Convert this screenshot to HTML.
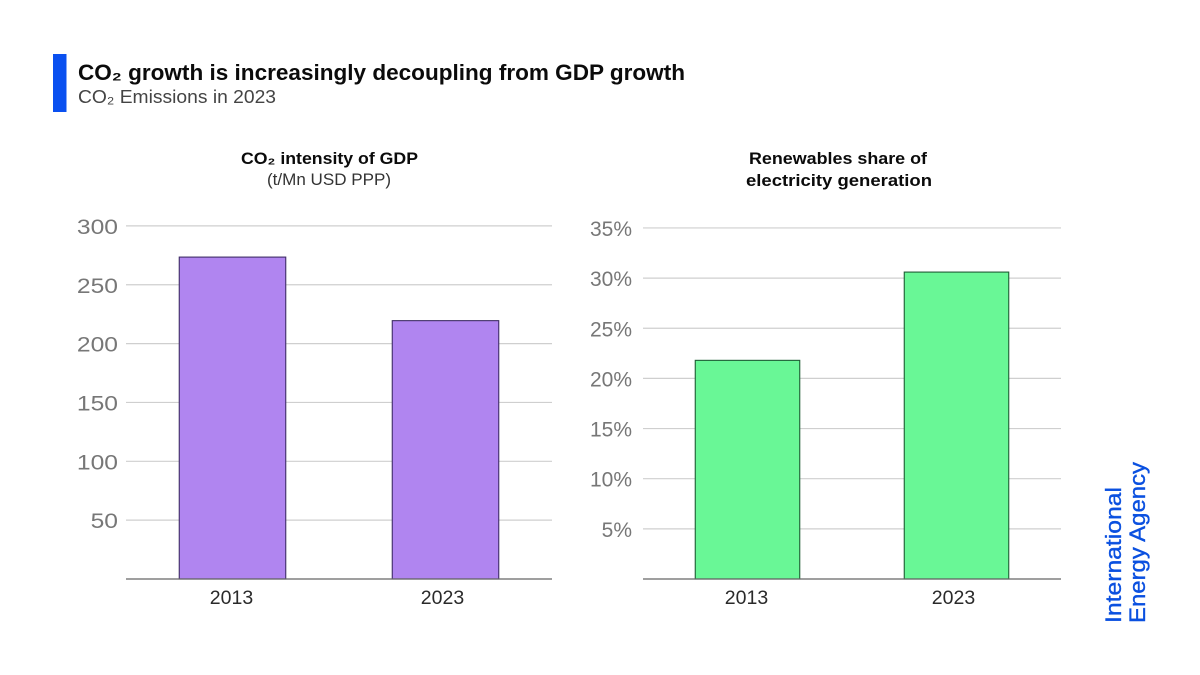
<!DOCTYPE html>
<html>
<head>
<meta charset="utf-8">
<style>
html,body{margin:0;padding:0;background:#fff;width:1200px;height:675px;overflow:hidden}
svg{display:block}
text{font-family:"Liberation Sans",sans-serif}
</style>
</head>
<body>
<svg id="chart" width="1200" height="675" viewBox="0 0 1200 675" xmlns="http://www.w3.org/2000/svg">
<rect width="1200" height="675" fill="#fff"/>
<rect x="53" y="54" width="13.500" height="58" fill="#0a50f0"/>
<text x="78" y="80" font-size="22.500" font-weight="700" fill="#0b0b0b" textLength="607" lengthAdjust="spacingAndGlyphs">CO₂ growth is increasingly decoupling from GDP growth</text>
<text x="78" y="103" font-size="18.500" fill="#444" textLength="198" lengthAdjust="spacingAndGlyphs">CO₂ Emissions in 2023</text>
<text x="329.500" y="164" font-size="17" font-weight="700" fill="#0b0b0b" text-anchor="middle" textLength="177" lengthAdjust="spacingAndGlyphs">CO₂ intensity of GDP</text>
<text x="329" y="185" font-size="17" fill="#333" text-anchor="middle" textLength="124" lengthAdjust="spacingAndGlyphs">(t/Mn USD PPP)</text>
<text x="838" y="164" font-size="17" font-weight="700" fill="#0b0b0b" text-anchor="middle" textLength="178" lengthAdjust="spacingAndGlyphs">Renewables share of</text>
<text x="839" y="186" font-size="17" font-weight="700" fill="#0b0b0b" text-anchor="middle" textLength="186" lengthAdjust="spacingAndGlyphs">electricity generation</text>
<text transform="translate(1121 623) rotate(-90)" font-size="22" fill="#0a50e0" stroke="#0a50e0" stroke-width="0.35" textLength="136" lengthAdjust="spacingAndGlyphs">International</text>
<text transform="translate(1145 623) rotate(-90)" font-size="22" fill="#0a50e0" stroke="#0a50e0" stroke-width="0.35" textLength="161" lengthAdjust="spacingAndGlyphs">Energy Agency</text>
</svg>
<script>
const categories = ['2013', '2023'];
const intensityValues = [273.5, 219.5];
const intensityTicks = [50, 100, 150, 200, 250, 300];
const renewablesValues = [21.8, 30.6];
const renewablesTicks = [5, 10, 15, 20, 25, 30, 35];

const svg = document.getElementById('chart');
const NS = 'http://www.w3.org/2000/svg';
function make(tag, attrs, text) {
  const el = document.createElementNS(NS, tag);
  for (const k in attrs) el.setAttribute(k, attrs[k]);
  if (text !== undefined) el.textContent = text;
  svg.appendChild(el);
  return el;
}
function drawPanel(p) {
  const y = v => p.baseY - v * p.pxPerUnit;
  const band = (p.x1 - p.x0) / categories.length;
  const x = i => p.x0 + band * (i + 0.5);
  p.ticks.forEach(t => {
    const line = make('line', {x1: p.x0, x2: p.x1, y1: y(t), y2: y(t), stroke: '#cfcfcf', 'stroke-width': 1.2});
    
    
    const attrs = {x: p.x0 - p.tickGap, y: y(t) + 8, 'text-anchor': 'end', 'font-size': 21, fill: '#777'};
    if (p.digitWidth) {
      attrs.textLength = String(t).length * p.digitWidth;
      attrs.lengthAdjust = 'spacingAndGlyphs';
    }
    const label = make('text', attrs, t + p.suffix);
    
    
  });
  p.values.forEach((v, i) => {
    const bar = make('rect', {x: x(i) - band * 0.25, y: y(v), width: band * 0.5, height: p.baseY - y(v), fill: p.fill, stroke: p.stroke, 'stroke-width': 1.1});
    
    
    const label = make('text', {x: x(i) - 1 - i * 2, y: p.baseY + 25, 'text-anchor': 'middle', 'font-size': 19.5, fill: '#2a2a2a'}, categories[i]);
    
    
  });
  const axis = make('line', {x1: p.x0, x2: p.x1, y1: p.baseY, y2: p.baseY, stroke: '#666', 'stroke-width': 1.3});
  
  
}
drawPanel({name: 'intensity', x0: 126, x1: 552, baseY: 579, pxPerUnit: 1.177, values: intensityValues, ticks: intensityTicks, suffix: '', tickGap: 8, digitWidth: 13.7, fill: '#b085f0', stroke: '#3f2d66'});
drawPanel({name: 'renewables', x0: 643, x1: 1061, baseY: 579, pxPerUnit: 10.03, values: renewablesValues, ticks: renewablesTicks, suffix: '%', tickGap: 11, digitWidth: 0, fill: '#69f796', stroke: '#1f5c35'});
</script>
</body>
</html>
